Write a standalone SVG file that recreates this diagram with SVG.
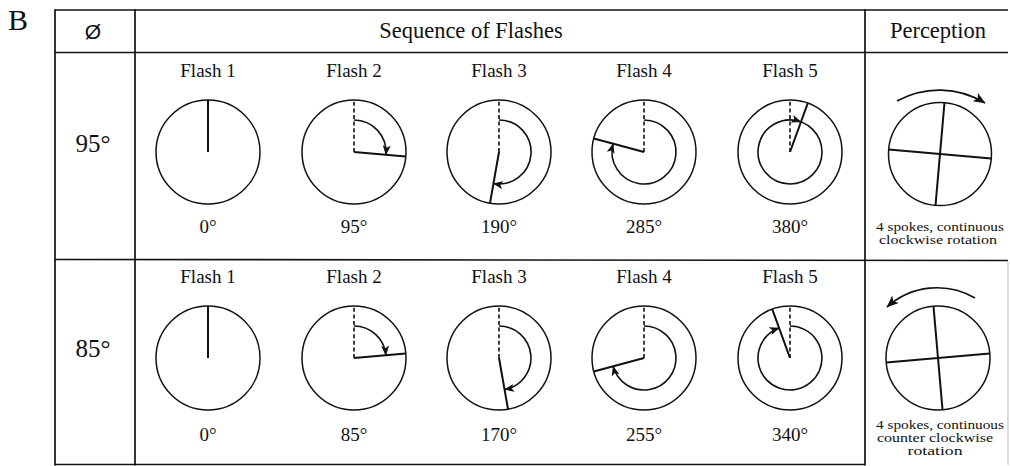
<svg xmlns="http://www.w3.org/2000/svg" width="1010" height="466" viewBox="0 0 1010 466">
  <defs>
    <style>
      text { font-family: "Liberation Serif", "Times New Roman", serif; fill: #111; }
      .grid { stroke: #111; stroke-width: 1.7; fill: none; }
      .faint { stroke: #bbb; stroke-width: 1; fill: none; }
      .dial { stroke: #111; stroke-width: 1.5; fill: none; }
      .hand { stroke: #111; stroke-width: 2; fill: none; }
      .ref { stroke: #111; stroke-width: 1.6; fill: none; stroke-dasharray: 4 2.6; }
      .sweep { stroke: #111; stroke-width: 1.6; fill: none; marker-end: url(#ah); }
      .turn { stroke: #111; stroke-width: 1.7; fill: none; marker-end: url(#ahL); }
      .lbl { font-size: 19px; text-anchor: middle; }
      .hdr { font-size: 22.5px; text-anchor: middle; }
      .phi { font-size: 25px; text-anchor: middle; }
      .note { font-size: 12px; text-anchor: middle; }
    </style>
    <marker id="ah" viewBox="0 0 10 8" refX="9.5" refY="4" markerWidth="10" markerHeight="8" markerUnits="userSpaceOnUse" orient="auto">
      <path d="M0,0 L10,4 L0,8 L2.5,4 Z" fill="#111"/>
    </marker>
    <marker id="ahL" viewBox="0 0 12 10" refX="11.5" refY="5" markerWidth="13" markerHeight="10" markerUnits="userSpaceOnUse" orient="auto">
      <path d="M0,0 L12,5 L0,10 L3,5 Z" fill="#111"/>
    </marker>
  </defs>

  <rect width="1010" height="466" fill="#fff"/>

  <!-- panel letter -->
  <text x="8" y="30" style="font-size:30px">B</text>

  <!-- table rules -->
  <g id="grid">
    <line class="grid" x1="55" y1="10" x2="1008" y2="10"/>
    <line class="grid" x1="55" y1="52.5" x2="1008" y2="52.5"/>
    <line class="grid" x1="55" y1="259.5" x2="1008" y2="260.5"/>
    <line class="grid" x1="55" y1="464.5" x2="865" y2="464.5"/>
    <line class="grid" x1="55" y1="9.2" x2="55" y2="465.5"/>
    <line class="grid" x1="135" y1="9.2" x2="135" y2="465.5"/>
    <line class="grid" x1="865" y1="9.2" x2="865" y2="465.5"/>
    <line class="faint" x1="1008" y1="262" x2="1008" y2="465"/>
  </g>

  <!-- column headings -->
  <g id="header">
    <text x="93" y="39" style="font-family:'Liberation Sans', Arial, sans-serif; font-size:21px; text-anchor:middle">Ø</text>
    <text class="hdr" x="471" y="38">Sequence of Flashes</text>
    <text class="hdr" x="938" y="38">Perception</text>
  </g>

  <!-- row: 95 degree step -->
  <g id="row-95">
    <text class="phi" x="93" y="152">95°</text>

    <g id="r95-flash1">
      <text class="lbl" x="208" y="77">Flash 1</text>
      <circle class="dial" cx="208" cy="152" r="52"/>
      <line class="hand" x1="208" y1="152" x2="208" y2="100"/>
      <text class="lbl" x="208" y="233">0°</text>
    </g>

    <g id="r95-flash2">
      <text class="lbl" x="354" y="77">Flash 2</text>
      <circle class="dial" cx="354" cy="152" r="52"/>
      <line class="ref" x1="354" y1="152" x2="354" y2="100"/>
      <line class="hand" x1="354" y1="152" x2="405.8" y2="156.5"/>
      <path class="sweep" d="M354,120 A32,32 0 0 1 385.9,154.8"/>
      <text class="lbl" x="354" y="233">95°</text>
    </g>

    <g id="r95-flash3">
      <text class="lbl" x="499" y="77">Flash 3</text>
      <circle class="dial" cx="499" cy="152" r="52"/>
      <line class="ref" x1="499" y1="152" x2="499" y2="100"/>
      <line class="hand" x1="499" y1="152" x2="490" y2="203.2"/>
      <path class="sweep" d="M499,120 A32,32 0 1 1 493.4,183.5"/>
      <text class="lbl" x="499" y="233">190°</text>
    </g>

    <g id="r95-flash4">
      <text class="lbl" x="644" y="77">Flash 4</text>
      <circle class="dial" cx="644" cy="152" r="52"/>
      <line class="ref" x1="644" y1="152" x2="644" y2="100"/>
      <line class="hand" x1="644" y1="152" x2="593.8" y2="138.5"/>
      <path class="sweep" d="M644,120 A32,32 0 1 1 613.1,143.7"/>
      <text class="lbl" x="644" y="233">285°</text>
    </g>

    <g id="r95-flash5">
      <text class="lbl" x="790" y="77">Flash 5</text>
      <circle class="dial" cx="790" cy="152" r="52"/>
      <line class="ref" x1="790" y1="152" x2="790" y2="100"/>
      <line class="hand" x1="790" y1="152" x2="807.8" y2="103.1"/>
      <path class="sweep" d="M790,120 A32,32 0 0 1 790,184 A32,32 0 1 1 800.9,121.9"/>
      <text class="lbl" x="790" y="233">380°</text>
    </g>

    <g id="r95-perception">
      <path class="turn" d="M897,101 A87,87 0 0 1 985,103"/>
      <circle class="dial" cx="940" cy="154" r="51.5"/>
      <g transform="rotate(5 940 154)">
        <line class="hand" x1="940" y1="102.5" x2="940" y2="205.5"/>
        <line class="hand" x1="888.5" y1="154" x2="991.5" y2="154"/>
      </g>
      <text class="note" x="940" y="231" textLength="128" lengthAdjust="spacingAndGlyphs">4 spokes, continuous</text>
      <text class="note" x="938" y="244" textLength="118" lengthAdjust="spacingAndGlyphs">clockwise rotation</text>
    </g>
  </g>

  <!-- row: 85 degree step -->
  <g id="row-85">
    <text class="phi" x="93" y="357">85°</text>

    <g id="r85-flash1">
      <text class="lbl" x="208" y="283">Flash 1</text>
      <circle class="dial" cx="208" cy="358" r="52"/>
      <line class="hand" x1="208" y1="358" x2="208" y2="306"/>
      <text class="lbl" x="208" y="441">0°</text>
    </g>

    <g id="r85-flash2">
      <text class="lbl" x="354" y="283">Flash 2</text>
      <circle class="dial" cx="354" cy="358" r="52"/>
      <line class="ref" x1="354" y1="358" x2="354" y2="306"/>
      <line class="hand" x1="354" y1="358" x2="405.8" y2="353.5"/>
      <path class="sweep" d="M354,326 A32,32 0 0 1 385.9,355.2"/>
      <text class="lbl" x="354" y="441">85°</text>
    </g>

    <g id="r85-flash3">
      <text class="lbl" x="499" y="283">Flash 3</text>
      <circle class="dial" cx="499" cy="358" r="52"/>
      <line class="ref" x1="499" y1="358" x2="499" y2="306"/>
      <line class="hand" x1="499" y1="358" x2="508" y2="409.2"/>
      <path class="sweep" d="M499,326 A32,32 0 0 1 504.6,389.5"/>
      <text class="lbl" x="499" y="441">170°</text>
    </g>

    <g id="r85-flash4">
      <text class="lbl" x="644" y="283">Flash 4</text>
      <circle class="dial" cx="644" cy="358" r="52"/>
      <line class="ref" x1="644" y1="358" x2="644" y2="306"/>
      <line class="hand" x1="644" y1="358" x2="593.8" y2="371.5"/>
      <path class="sweep" d="M644,326 A32,32 0 1 1 613.1,366.3"/>
      <text class="lbl" x="644" y="441">255°</text>
    </g>

    <g id="r85-flash5">
      <text class="lbl" x="790" y="283">Flash 5</text>
      <circle class="dial" cx="790" cy="358" r="52"/>
      <line class="ref" x1="790" y1="358" x2="790" y2="306"/>
      <line class="hand" x1="790" y1="358" x2="772.2" y2="309.1"/>
      <path class="sweep" d="M790,326 A32,32 0 1 1 779.1,327.9"/>
      <text class="lbl" x="790" y="441">340°</text>
    </g>

    <g id="r85-perception">
      <path class="turn" d="M975,298 A75,75 0 0 0 887,307"/>
      <circle class="dial" cx="938" cy="358" r="52"/>
      <g transform="rotate(-5 938 358)">
        <line class="hand" x1="938" y1="306" x2="938" y2="410"/>
        <line class="hand" x1="886" y1="358" x2="990" y2="358"/>
      </g>
      <text class="note" x="940" y="429" textLength="128" lengthAdjust="spacingAndGlyphs">4 spokes, continuous</text>
      <text class="note" x="935" y="442" textLength="116" lengthAdjust="spacingAndGlyphs">counter clockwise</text>
      <text class="note" x="935" y="455" textLength="55" lengthAdjust="spacingAndGlyphs">rotation</text>
    </g>
  </g>
</svg>
